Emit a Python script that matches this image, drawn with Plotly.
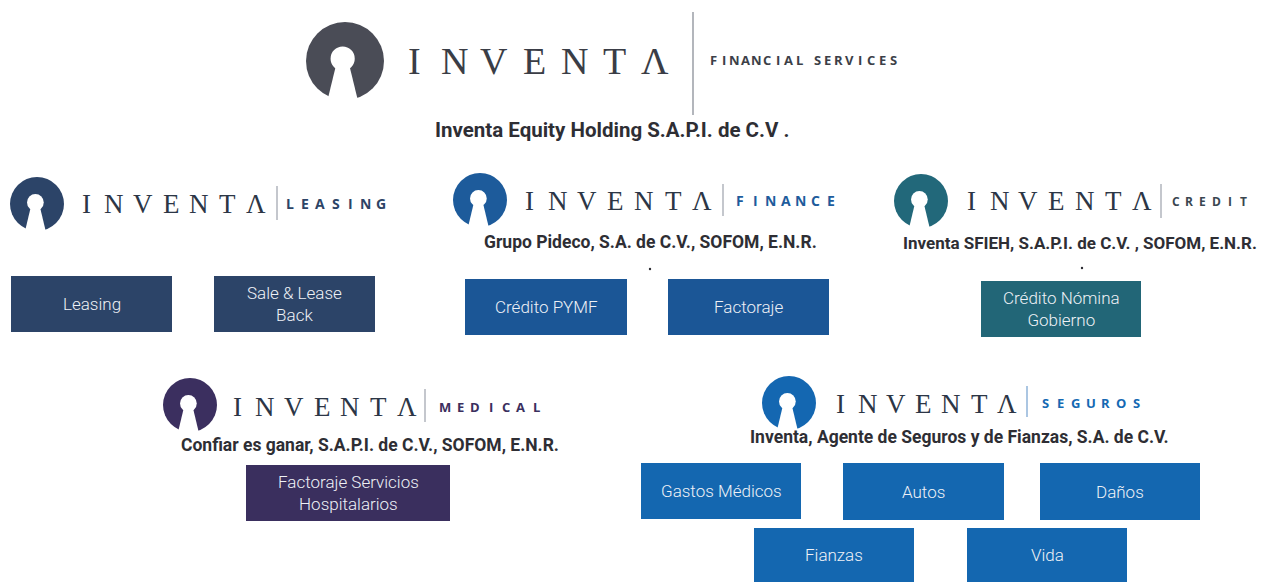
import plotly.graph_objects as go

# ---------------- data ----------------
brand_letters = ["I", "N", "V", "E", "N", "T", "Λ"]
holding_division = "FINANCIAL SERVICES"
holding_company = "Inventa Equity Holding S.A.P.I. de C.V ."

divisions = ["LEASING", "FINANCE", "CREDIT", "MEDICAL", "SEGUROS"]
companies = [
    "",
    "Grupo Pideco, S.A. de C.V., SOFOM, E.N.R.",
    "Inventa SFIEH, S.A.P.I. de C.V. , SOFOM, E.N.R.",
    "Confiar es ganar, S.A.P.I. de C.V., SOFOM, E.N.R.",
    "Inventa, Agente de Seguros y de Fianzas, S.A. de C.V.",
]
products = [
    ["Leasing", "Sale & Lease<br>Back"],
    ["Crédito PYMF", "Factoraje"],
    ["Crédito Nómina<br>Gobierno"],
    ["Factoraje Servicios<br>Hospitalarios"],
    ["Gastos Médicos", "Autos", "Daños", "Fianzas", "Vida"],
]
division_colors = ["#2c4468", "#1d5b9b", "#22687a", "#3b2f5f", "#1467b1"]
box_colors = ["#2c4468", "#1b5696", "#226677", "#3a2f5e", "#1467b0"]
sub_colors = ["#2d4466", "#1e5c9c", "#3a4650", "#3b2f5e", "#1569b3"]
sep_colors = ["#b0b4bc", "#b0b4bc", "#b0b4bc", "#b0b4bc", "#8fb3d8"]

# ---------------- layout (positions in page pixels) ----------------
W, H = 1267, 582
OFF = 8  # page body margin
main_logo = dict(cx=345, cy=61, r=39, lx0=414, lx1=655, ly=61, lsize=38,
                 sep=693, sy0=12, sy1=115, subx0=713, subx1=893, suby=60, subsize=13)
div_logos = [
    dict(cx=37, cy=204, r=27, lx0=86, lx1=256, ly=204, lsize=27, sep=277, sy0=186, sy1=220, subx0=290, subx1=381, suby=203, subsize=14),
    dict(cx=480, cy=200, r=27, lx0=529, lx1=702, ly=201, lsize=27, sep=723, sy0=184, sy1=216, subx0=740, subx1=831, suby=200, subsize=14),
    dict(cx=921, cy=201, r=27, lx0=971, lx1=1142, ly=201, lsize=27, sep=1161, sy0=184, sy1=218, subx0=1176, subx1=1243, suby=201, subsize=12),
    dict(cx=190, cy=405, r=27, lx0=237, lx1=407, ly=407, lsize=27, sep=425, sy0=389, sy1=422, subx0=445, subx1=536, suby=407, subsize=13),
    dict(cx=789, cy=403, r=27, lx0=840, lx1=1007, ly=404, lsize=27, sep=1027, sy0=386, sy1=417, subx0=1045, subx1=1136, suby=403, subsize=13),
]
company_pos = [None, (650, 242), (1080, 243), (370, 445), (959, 437)]
company_size = [0, 17.5, 17, 17.5, 17.5]
dot_pos = [None, (650, 269), (1082, 268), None, None]
box_pos = [
    [(11, 276, 172, 332), (214, 276, 375, 332)],
    [(465, 279, 627, 335), (668, 279, 829, 335)],
    [(981, 281, 1141, 337)],
    [(246, 465, 450, 521)],
    [(641, 463, 801, 519), (843, 463, 1004, 520), (1040, 463, 1200, 520),
     (754, 528, 914, 590), (967, 528, 1127, 590)],
]

shapes = []
annotations = []


def draw_logo(L, color, subtitle, subcolor, letter_color, sepcolor):
    cx, cy, r = L["cx"], L["cy"], L["r"]
    shapes.append(dict(type="circle", xref="x", yref="y", x0=cx - r, x1=cx + r,
                       y0=cy - r, y1=cy + r, fillcolor=color, line=dict(width=0), layer="above"))
    hx, hy, hr = cx - 0.06 * r, cy - 0.06 * r, 0.31 * r
    nx = 0.13 * r
    bx = 0.40 * r
    path = (f"M {hx - nx},{hy} L {hx + nx},{hy} L {hx + bx},{cy + r + 2} "
            f"L {hx - bx},{cy + r + 2} Z")
    shapes.append(dict(type="path", xref="x", yref="y", path=path, fillcolor="white",
                       line=dict(width=0), layer="above"))
    shapes.append(dict(type="circle", xref="x", yref="y", x0=hx - hr, x1=hx + hr,
                       y0=hy - hr, y1=hy + hr, fillcolor="white", line=dict(width=0), layer="above"))
    n = len(brand_letters)
    for i, ch in enumerate(brand_letters):
        x = L["lx0"] + (L["lx1"] - L["lx0"]) * i / (n - 1)
        annotations.append(dict(x=x, y=L["ly"], xref="x", yref="y", text=ch, showarrow=False,
                                xanchor="center", yanchor="middle",
                                font=dict(family="Liberation Serif", size=L["lsize"], color=letter_color)))
    shapes.append(dict(type="line", xref="x", yref="y", x0=L["sep"], x1=L["sep"], y0=L["sy0"], y1=L["sy1"],
                       line=dict(color=sepcolor, width=1.5), layer="above"))
    # letter-spaced subtitle; a word gap is a little wider than one letter step
    steps = [0.8 if ch == " " or (i > 0 and subtitle[i - 1] == " ") else 1.0
             for i, ch in enumerate(subtitle)]
    total = sum(steps[1:])
    pos = 0.0
    for i, ch in enumerate(subtitle):
        if i > 0:
            pos += steps[i]
        if ch == " ":
            continue
        x = L["subx0"] + (L["subx1"] - L["subx0"]) * pos / total
        annotations.append(dict(x=x, y=L["suby"], xref="x", yref="y", text=f"<b>{ch}</b>",
                                showarrow=False, xanchor="center", yanchor="middle",
                                font=dict(family="Open Sans", size=L["subsize"], color=subcolor)))


draw_logo(main_logo, "#4a4c56", holding_division, "#3c3f48", "#3a3d46", "#9a9ea6")
annotations.append(dict(x=612, y=130, xref="x", yref="y", text=f"<b>{holding_company}</b>", showarrow=False,
                        xanchor="center", yanchor="middle",
                        font=dict(family="Roboto", size=20.5, color="#2e2e34")))

for k, div in enumerate(divisions):
    draw_logo(div_logos[k], division_colors[k], div, sub_colors[k], "#2c3646", sep_colors[k])
    if companies[k]:
        x, y = company_pos[k]
        annotations.append(dict(x=x, y=y, xref="x", yref="y", text=f"<b>{companies[k]}</b>", showarrow=False,
                                xanchor="center", yanchor="middle",
                                font=dict(family="Roboto", size=company_size[k], color="#2e2e34")))
    if dot_pos[k]:
        x, y = dot_pos[k]
        shapes.append(dict(type="circle", xref="x", yref="y", x0=x - 1.2, x1=x + 1.2, y0=y - 1.2, y1=y + 1.2,
                           fillcolor="#2e2e34", line=dict(width=0)))
    for label, (x0, y0, x1, y1) in zip(products[k], box_pos[k]):
        shapes.append(dict(type="rect", xref="x", yref="y", x0=x0, x1=x1, y0=y0, y1=y1,
                           fillcolor=box_colors[k], line=dict(width=0), layer="below"))
        yc = (y0 + min(y1, 582)) / 2
        annotations.append(dict(x=(x0 + x1) / 2, y=yc, xref="x", yref="y", text=label,
                                showarrow=False, xanchor="center", yanchor="middle",
                                font=dict(family="Roboto", size=17, weight=300, color="#eef1f6")))

fig = go.Figure()
fig.add_trace(go.Scatter(x=[OFF, W], y=[OFF, H], mode="markers", marker=dict(opacity=0),
                         hoverinfo="skip", showlegend=False))
fig.update_layout(
    width=W, height=H, margin=dict(l=0, r=0, t=0, b=0),
    paper_bgcolor="white", plot_bgcolor="white",
    xaxis=dict(range=[OFF, W + OFF], visible=False, fixedrange=True),
    yaxis=dict(range=[H + OFF, OFF], visible=False, fixedrange=True),
    shapes=shapes, annotations=annotations, showlegend=False,
)
fig.write_html("out.html")
